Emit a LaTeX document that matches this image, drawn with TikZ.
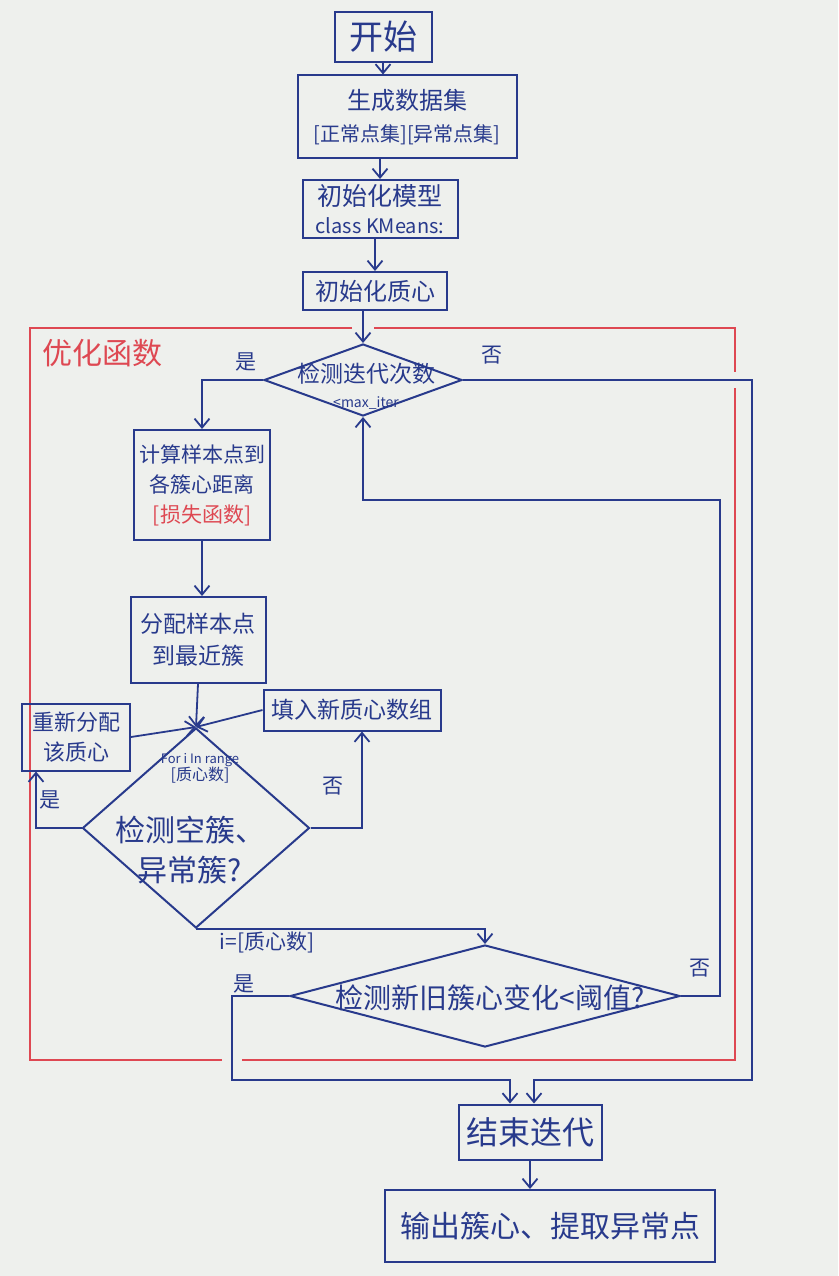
\documentclass[tikz,border=0pt]{standalone}
\usepackage{fontspec}
\setmainfont{Noto Sans CJK SC}
\usetikzlibrary{shapes.geometric, arrows.meta}
\definecolor{ink}{RGB}{40,58,140}
\definecolor{redink}{RGB}{222,72,82}
\definecolor{paper}{RGB}{238,240,237}

\begin{document}
\begin{tikzpicture}[x=1pt, y=-1pt, >={Straight Barb[length=9pt,width=15pt]},
    box/.style={draw=ink, line width=2pt, text=ink, align=center, inner sep=0pt},
    decision/.style={draw=ink, line width=2pt, diamond, aspect=1, inner sep=0pt},
    flow/.style={->, ink, line width=1.8pt},
    redframe/.style={redink, line width=1.6pt},
    lbl/.style={text=ink, font=\fontsize{21}{24}\selectfont}]
    \useasboundingbox (0,0) rectangle (838,1276);
    \fill[paper] (0,0) rectangle (838,1276);

    % Red frame of the optimisation
    \draw[redframe] (352,328) -- (30,328) -- (30,1060) -- (222,1060);
    \draw[redframe] (374,328) -- (735,328) -- (735,372);
    \draw[redframe] (735,388) -- (735,1060) -- (242,1060);
    \node[text=redink, font=\fontsize{30}{34}\selectfont] (optName) at (102,353) {优化函数};

    % Main column
    \node[box, minimum width=97pt, minimum height=50pt, font=\fontsize{34}{38}\selectfont] (start) at (383,37) {开始};
    \node[box, minimum width=219pt, minimum height=83pt, font=\fontsize{24}{32}\selectfont] (data) at (407,117)
        {生成数据集\\{\fontsize{20}{26}\selectfont [正常点集][异常点集]}};
    \node[box, minimum width=155pt, minimum height=58pt, font=\fontsize{25}{28}\selectfont] (model) at (380,209)
        {初始化模型\\{\fontsize{20}{24}\selectfont class KMeans:}};
    \node[box, minimum width=144pt, minimum height=38pt, font=\fontsize{24}{28}\selectfont] (cent) at (375,291) {初始化质心};

    % Iteration check
    \node[decision, minimum width=198pt, minimum height=72pt] (iter) at (363,380) {};
    \node[text=ink, align=center, font=\fontsize{23}{25}\selectfont] (iterText) at (366,386)
        {检测迭代次数\\{\fontsize{14}{15}\selectfont <max\_iter}};

    % Inner loop
    \node[box, minimum width=136pt, minimum height=110pt, font=\fontsize{21}{30}\selectfont] (dist) at (202,485)
        {计算样本点到\\各簇心距离\\\textcolor{redink}{[损失函数]}};
    \node[box, minimum width=135pt, minimum height=86pt, font=\fontsize{23}{32}\selectfont] (assign) at (198,640)
        {分配样本点\\到最近簇};
    \node[decision, minimum width=227pt, minimum height=200pt] (empty) at (196,828) {};
    \node[text=ink, align=center, font=\fontsize{13}{17}\selectfont] (emptyHead) at (200,768)
        {For i In range\\{\fontsize{16}{18}\selectfont [质心数]}};
    \node[text=ink, align=center, font=\fontsize{30}{40}\selectfont] (emptyText) at (190,850)
        {检测空簇、\\异常簇?};
    \node[box, minimum width=108pt, minimum height=67pt, font=\fontsize{22}{30}\selectfont] (realloc) at (76,737)
        {重新分配\\该质心};
    \node[box, minimum width=177pt, minimum height=41pt, font=\fontsize{23}{26}\selectfont] (fill) at (352,710) {填入新质心数组};

    % Convergence check
    \node[decision, minimum width=390pt, minimum height=102pt] (conv) at (485,996) {};
    \node[text=ink, font=\fontsize{28}{30}\selectfont] (convText) at (490,998) {检测新旧簇心变化<阈值?};

    % End
    \node[box, minimum width=143pt, minimum height=55pt, font=\fontsize{32}{36}\selectfont] (endit) at (530,1132) {结束迭代};
    \node[box, minimum width=330pt, minimum height=72pt, font=\fontsize{30}{34}\selectfont] (output) at (550,1226) {输出簇心、提取异常点};

    % Turning points
    \coordinate (noTop) at (752,1080);
    \coordinate (noConv) at (720,500);
    \coordinate (yesConv) at (232,1080);

    % Connectors of the main column
    \draw[flow] (start.south) -- (start.south |- data.north);
    \draw[flow] (model.north |- data.south) -- (model.north);
    \draw[flow] (cent.north |- model.south) -- (cent.north);
    \draw[flow] (cent.south -| iter.north) -- (iter.north);

    % Iteration check
    \draw[flow] (iter.west) -| (dist.north);
    \node[lbl] (yesIter) at (246,362) {是};
    \draw[flow] (iter.east) -| (noTop) -| ([xshift=4pt]endit.north);
    \node[lbl] (noIter) at (492,355) {否};

    % Inner loop
    \draw[flow] (dist.south) -- (dist.south |- assign.north);
    \draw[flow] (assign.south) -- (empty.north);
    \draw[flow] (realloc.east) -- (empty.north);
    \draw[flow] (fill.west) -- (empty.north);
    \draw[flow] (empty.west) -| ([xshift=-40pt]realloc.south);
    \node[lbl] (yesEmpty) at (50,800) {是};
    \draw[flow] (empty.east) -| ([xshift=10pt]fill.south);
    \node[lbl] (noEmpty) at (333,786) {否};
    \draw[flow] (empty.south) -| (conv.north);
    \node[lbl] (doneLoop) at (267,942) {i=[质心数]};

    % Convergence check
    \draw[flow] (conv.west) -| (yesConv) -| ([xshift=-20pt]endit.north);
    \node[lbl] (yesConvLbl) at (244,984) {是};
    \draw[flow] (conv.east) -| (noConv) -| (iter.south);
    \node[lbl] (noConvLbl) at (700,968) {否};

    % Output
    \draw[flow] (endit.south) -- (endit.south |- output.north);
\end{tikzpicture}
\end{document}
